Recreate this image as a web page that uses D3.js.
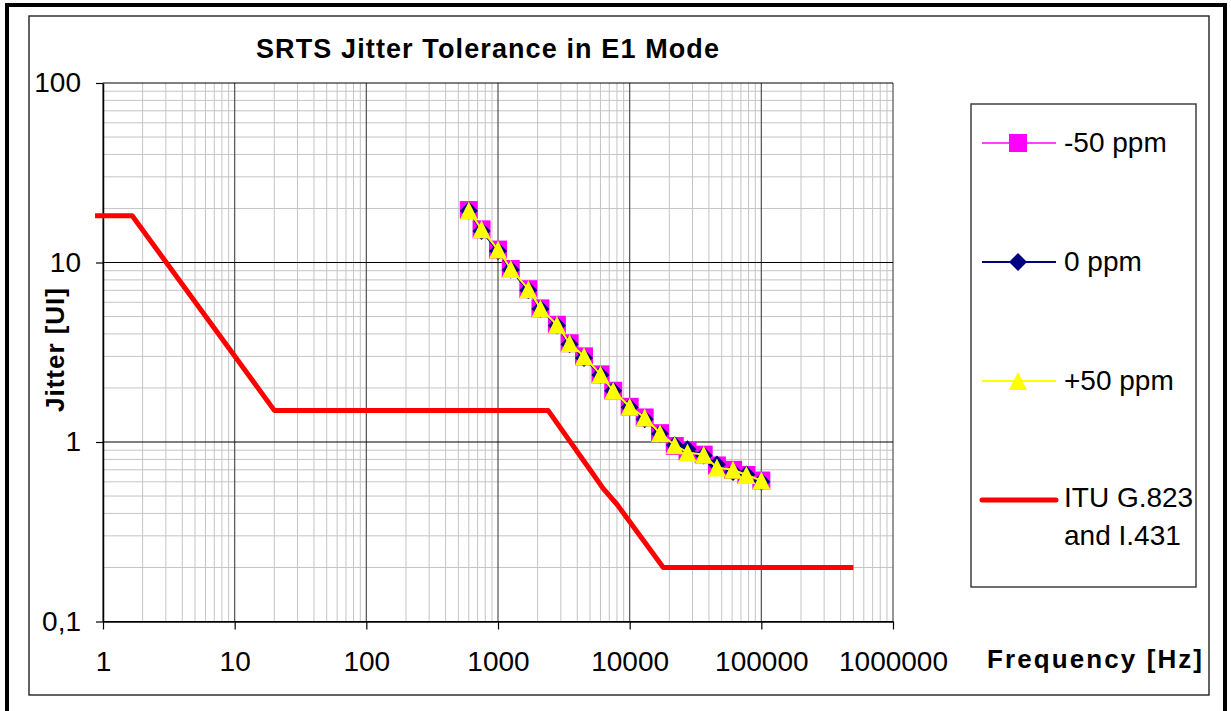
<!DOCTYPE html>
<html>
<head>
<meta charset="utf-8">
<script src="https://cdn.jsdelivr.net/npm/d3@7"></script>
<style>
  html, body { margin: 0; padding: 0; background: #fff; }
  svg { display: block; font-family: "Liberation Sans", Arial, sans-serif; }
</style>
</head>
<body>
<svg id="chart" width="1231" height="711"></svg>
<script>
// Measured frequencies (Hz) of the tolerance sweep
const freqs = [600, 750, 1000, 1250, 1700, 2100, 2800, 3500, 4500, 6000, 7500,
               10000, 13000, 17000, 22000, 27500, 36500, 46000, 61000, 77000, 100000];

// Maximum tolerated jitter (UI) per clock offset
const jitterMinus50 = [19.6, 15.3, 11.8, 9.2, 7.1, 5.55, 4.5, 3.55, 3.0, 2.38, 1.93,
                       1.57, 1.37, 1.12, 0.95, 0.89, 0.85, 0.74, 0.70, 0.655, 0.61];
const jitterZero    = [19.4, 15.0, 11.6, 9.1, 7.0, 5.5, 4.45, 3.5, 2.94, 2.36, 1.93,
                       1.56, 1.34, 1.11, 0.96, 0.91, 0.84, 0.75, 0.68, 0.66, 0.60];
const jitterPlus50  = [19.5, 15.3, 11.8, 9.2, 7.1, 5.55, 4.5, 3.55, 3.0, 2.38, 1.93,
                       1.57, 1.37, 1.12, 0.96, 0.875, 0.85, 0.72, 0.70, 0.655, 0.61];

// ITU-T G.823 / I.431 input jitter tolerance mask
const maskFreqs  = [0.87, 1.667, 20, 2400, 5000, 6300, 8000, 18000, 500000];
const maskJitter = [18.2, 18.2, 1.5, 1.5, 0.7, 0.55, 0.45, 0.2, 0.2];

// Axis ticks
const xTickValues = [1, 10, 100, 1000, 10000, 100000, 1000000];
const xTickLabels = ["1", "10", "100", "1000", "10000", "100000", "1000000"];
const yTickValues = [0.1, 1, 10, 100];
const yTickLabels = ["0,1", "1", "10", "100"];

const seriesNames = ["-50 ppm", "0 ppm", "+50 ppm", "ITU G.823\nand I.431"];

const svg = d3.select("#chart");

// Frames
svg.append("rect").attr("x", 7).attr("y", 5).attr("width", 1218).attr("height", 720)
  .attr("fill", "#fff").attr("stroke", "#000").attr("stroke-width", 4);
svg.append("rect").attr("x", 29).attr("y", 16).attr("width", 1180).attr("height", 679)
  .attr("fill", "#fff").attr("stroke", "#222").attr("stroke-width", 1.4);

const x = d3.scaleLog().domain([1, 1e6]).range([103, 893]);
const y = d3.scaleLog().domain([0.1, 100]).range([621.5, 83]);

const isDecade = v => Math.abs(Math.log10(v) - Math.round(Math.log10(v))) < 1e-9;

// Grid
const grid = svg.append("g");
const xGrid = x.ticks();
const yGrid = y.ticks();
grid.selectAll("line.xminor").data(xGrid.filter(v => !isDecade(v))).join("line")
  .attr("x1", d => x(d)).attr("x2", d => x(d)).attr("y1", y(100)).attr("y2", y(0.1))
  .attr("stroke", "#c4c4c4").attr("stroke-width", 1);
grid.selectAll("line.yminor").data(yGrid.filter(v => !isDecade(v))).join("line")
  .attr("x1", x(1)).attr("x2", x(1e6)).attr("y1", d => y(d)).attr("y2", d => y(d))
  .attr("stroke", "#c4c4c4").attr("stroke-width", 1);
grid.selectAll("line.xmajor").data(xGrid.filter(isDecade)).join("line")
  .attr("x1", d => x(d)).attr("x2", d => x(d)).attr("y1", y(100)).attr("y2", y(0.1))
  .attr("stroke", "#505050").attr("stroke-width", 1.2);
grid.selectAll("line.ymajor").data(yGrid.filter(isDecade)).join("line")
  .attr("x1", x(1)).attr("x2", x(1e6)).attr("y1", d => y(d)).attr("y2", d => y(d))
  .attr("stroke", "#000").attr("stroke-width", 1.2);

// Axes
const xAxis = d3.axisBottom(x).tickValues(xTickValues)
  .tickFormat((d, i) => xTickLabels[i]).tickSizeInner(8).tickSizeOuter(0).tickPadding(22);
const yAxis = d3.axisLeft(y).tickValues(yTickValues)
  .tickFormat((d, i) => yTickLabels[i]).tickSizeInner(7).tickSizeOuter(0).tickPadding(15);

const gx = svg.append("g").attr("transform", `translate(0,${y(0.1)})`).call(xAxis);
const gy = svg.append("g").attr("transform", `translate(${x(1)},0)`).call(yAxis);
[gx, gy].forEach(g => {
  g.select(".domain").attr("stroke", "#000").attr("stroke-width", 1.5);
  g.selectAll(".tick line").attr("stroke", "#000").attr("stroke-width", 1.2);
  g.selectAll(".tick text").attr("fill", "#000")
    .style("font-family", "'Liberation Sans', Arial, sans-serif").style("font-size", "28px");
});

// Marker shapes (box-centred, 18 px)
const M = 9;
const squarePath = `M${-M},${-M}H${M}V${M}H${-M}Z`;
const diamondPath = `M0,${-M}L${M},0L0,${M}L${-M},0Z`;
const trianglePath = `M0,${-M}L${M},${M}L${-M},${M}Z`;

const series = [
  { name: seriesNames[0], values: jitterMinus50, color: "#ff00ff", width: 1.5, marker: squarePath },
  { name: seriesNames[1], values: jitterZero,    color: "#000080", width: 2,   marker: diamondPath },
  { name: seriesNames[2], values: jitterPlus50,  color: "#ffff00", width: 2,   marker: trianglePath }
];

const line = d3.line().x(d => x(d[0])).y(d => y(d[1]));

// ITU mask
svg.append("path")
  .datum(d3.zip(maskFreqs, maskJitter))
  .attr("d", line)
  .attr("fill", "none").attr("stroke", "#ff0000").attr("stroke-width", 5)
  .attr("stroke-linejoin", "round");

// Measured series
series.forEach(s => {
  const pts = d3.zip(freqs, s.values);
  const g = svg.append("g");
  g.append("path").datum(pts).attr("d", line)
    .attr("fill", "none").attr("stroke", s.color).attr("stroke-width", s.width);
  g.selectAll("path.m").data(pts).join("path").attr("class", "m")
    .attr("d", s.marker)
    .attr("transform", d => `translate(${x(d[0])},${y(d[1])})`)
    .attr("fill", s.color);
});

// Title and axis titles
svg.append("text").attr("x", 487.5).attr("y", 58).attr("text-anchor", "middle")
  .attr("font-weight", "bold").attr("font-size", 27)
  .attr("textLength", 463).attr("lengthAdjust", "spacing")
  .text("SRTS Jitter Tolerance in E1 Mode");

svg.append("text").attr("transform", "translate(64,350) rotate(-90)")
  .attr("text-anchor", "middle").attr("font-weight", "bold").attr("font-size", 26)
  .attr("textLength", 124).attr("lengthAdjust", "spacing")
  .text("Jitter [UI]");

svg.append("text").attr("x", 987).attr("y", 668)
  .attr("font-weight", "bold").attr("font-size", 26)
  .attr("textLength", 215).attr("lengthAdjust", "spacing")
  .text("Frequency [Hz]");

// Legend
svg.append("rect").attr("x", 971).attr("y", 104).attr("width", 225).attr("height", 483)
  .attr("fill", "#fff").attr("stroke", "#333").attr("stroke-width", 1.4);

const legendRows = [...series, { name: seriesNames[3], color: "#ff0000", width: 5, marker: null }];
legendRows.forEach((s, i) => {
  const cy = 143 + i * 119;
  const g = svg.append("g").attr("transform", `translate(0,${cy})`);
  g.append("line").attr("x1", 982).attr("x2", 1056).attr("y1", 0).attr("y2", 0)
    .attr("stroke", s.color).attr("stroke-width", s.width)
    .attr("stroke-linecap", s.marker ? "butt" : "round");
  if (s.marker) {
    g.append("path").attr("d", s.marker).attr("transform", "translate(1018,0)").attr("fill", s.color);
  }
  const lines = s.name.split("\n");
  const t = g.append("text").attr("x", 1064).attr("font-size", 28).attr("fill", "#000");
  lines.forEach((ln, j) => {
    t.append("tspan").attr("x", 1064).attr("y", (lines.length > 1 ? 7 : 9) + j * 38).text(ln);
  });
});
</script>
</body>
</html>
